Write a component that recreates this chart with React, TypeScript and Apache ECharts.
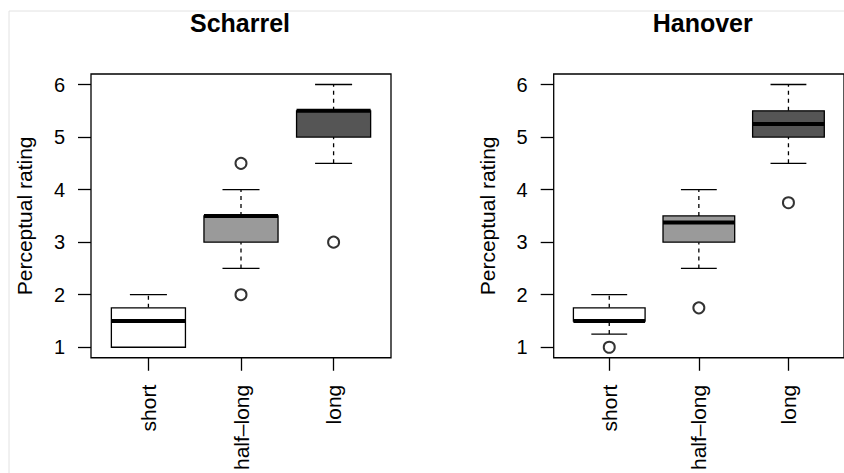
import React, { useEffect, useRef } from "react";
import * as echarts from "echarts";

const categories = ["short", "half–long", "long"];
// [low whisker, Q1, median, Q3, high whisker]
const scharrelStats = [
  [1, 1, 1.5, 1.75, 2],
  [2.5, 3, 3.5, 3.5, 4],
  [4.5, 5, 5.5, 5.5, 6],
];
const scharrelOutliers = [
  [2, 4.5],
  [2, 2],
  [3, 3],
];
const hanoverStats = [
  [1.25, 1.5, 1.5, 1.75, 2],
  [2.5, 3, 3.375, 3.5, 4],
  [4.5, 5, 5.25, 5.5, 6],
];
const hanoverOutliers = [
  [1, 1],
  [2, 1.75],
  [3, 3.75],
];
const boxColors = ["#ffffff", "#9a9a9a", "#555555"];
const yTicks = [1, 2, 3, 4, 5, 6];
const xTicks = [1, 2, 3];
const panelTitles = ["Scharrel", "Hanover"];
const yLabel = "Perceptual rating";

const FONT = "'Liberation Sans', Arial, Helvetica, sans-serif";

function renderBox(params: any, api: any) {
  const x = api.value(0);
  const low = api.value(1);
  const q1 = api.value(2);
  const med = api.value(3);
  const q3 = api.value(4);
  const high = api.value(5);
  const pL = api.coord([x - 0.4, low]);
  const pR = api.coord([x + 0.4, low]);
  const cx = api.coord([x, low])[0];
  const yLow = pL[1];
  const yQ1 = api.coord([x, q1])[1];
  const yMed = api.coord([x, med])[1];
  const yQ3 = api.coord([x, q3])[1];
  const yHigh = api.coord([x, high])[1];
  const left = pL[0];
  const right = pR[0];
  const w = right - left;
  const capHalf = w / 4;
  const dash = { stroke: "#000", lineWidth: 1.3, lineDash: [4, 4] };
  const solid = { stroke: "#000", lineWidth: 1.3 };
  const children: any[] = [];
  if (yLow - yQ1 > 0.5) {
    children.push({ type: "line", shape: { x1: cx, y1: yLow, x2: cx, y2: yQ1 }, style: dash });
  }
  if (yQ3 - yHigh > 0.5) {
    children.push({ type: "line", shape: { x1: cx, y1: yQ3, x2: cx, y2: yHigh }, style: dash });
  }
  children.push({ type: "line", shape: { x1: cx - capHalf, y1: yLow, x2: cx + capHalf, y2: yLow }, style: solid });
  children.push({ type: "line", shape: { x1: cx - capHalf, y1: yHigh, x2: cx + capHalf, y2: yHigh }, style: solid });
  children.push({
    type: "rect",
    shape: { x: left, y: yQ3, width: w, height: yQ1 - yQ3 },
    style: { fill: boxColors[params.dataIndex], stroke: "#000", lineWidth: 1.3 },
  });
  children.push({ type: "line", shape: { x1: left, y1: yMed, x2: right, y2: yMed }, style: { stroke: "#000", lineWidth: 4 } });
  return { type: "group", children };
}

export default function App() {
  const ref = useRef<HTMLDivElement>(null);
  useEffect(() => {
    if (!ref.current) return;
    const chart = echarts.init(ref.current, null, { renderer: "svg" });
    const gridLefts = [91, 553.7];
    const titleX = [240, 702.7];
    const statsList = [scharrelStats, hanoverStats];
    const outlierList = [scharrelOutliers, hanoverOutliers];

    const grids = gridLefts.map((l) => ({
      left: l,
      top: 74,
      width: 300,
      height: 286,
      show: true,
      borderColor: "#000",
      borderWidth: 1.3,
      backgroundColor: "transparent",
    }));
    const xAxes = gridLefts.map((_, i) => ({
      type: "value",
      gridIndex: i,
      min: 0.38,
      max: 3.62,
      axisLine: { show: false },
      splitLine: { show: false },
      axisTick: { show: true, customValues: xTicks, length: 13, lineStyle: { color: "#000", width: 1.3 } },
      axisLabel: {
        show: true,
        customValues: xTicks,
        rotate: 90,
        margin: 27,
        fontSize: 21,
        color: "#000",
        fontFamily: FONT,
        formatter: (v: number) => categories[Math.round(v) - 1] ?? "",
      },
    }));
    const yAxes = gridLefts.map((_, i) => ({
      type: "value",
      gridIndex: i,
      min: 0.8,
      max: 6.2,
      name: yLabel,
      nameLocation: "middle",
      nameGap: 56,
      nameTextStyle: { fontSize: 21, color: "#000", fontFamily: FONT },
      axisLine: { show: false },
      splitLine: { show: false },
      axisTick: { show: true, customValues: yTicks, length: 13, lineStyle: { color: "#000", width: 1.3 } },
      axisLabel: {
        show: true,
        customValues: yTicks,
        margin: 26,
        fontSize: 20,
        color: "#000",
        fontFamily: FONT,
      },
    }));
    const series: any[] = [];
    statsList.forEach((stats, i) => {
      series.push({
        type: "custom",
        xAxisIndex: i,
        yAxisIndex: i,
        renderItem: renderBox,
        clip: false,
        encode: { x: 0, y: [1, 2, 3, 4, 5] },
        data: stats.map((s, k) => [k + 1, ...s]),
      });
      series.push({
        type: "scatter",
        xAxisIndex: i,
        yAxisIndex: i,
        symbol: "emptyCircle",
        symbolSize: 11,
        itemStyle: { color: "#000", borderColor: "#000", borderWidth: 1.2 },
        data: outlierList[i],
        z: 5,
      });
    });

    chart.setOption({
      animation: false,
      backgroundColor: "#ffffff",
      grid: grids,
      xAxis: xAxes,
      yAxis: yAxes,
      series,
      graphic: [
        { type: "line", shape: { x1: 9, y1: 11, x2: 844, y2: 11 }, style: { stroke: "#e2e2e2", lineWidth: 1 }, silent: true },
        { type: "line", shape: { x1: 9, y1: 11, x2: 9, y2: 473 }, style: { stroke: "#e2e2e2", lineWidth: 1 }, silent: true },
        ...panelTitles.map((t, i) => ({
          type: "text",
          x: titleX[i],
          y: 23,
          style: {
            text: t,
            textAlign: "center",
            textVerticalAlign: "middle",
            font: `bold 25px ${FONT}`,
            fill: "#000",
          },
        })),
      ],
    });
    return () => chart.dispose();
  }, []);
  return <div ref={ref} style={{ position: "absolute", left: 0, top: 0, width: 844, height: 473 }} />;
}
